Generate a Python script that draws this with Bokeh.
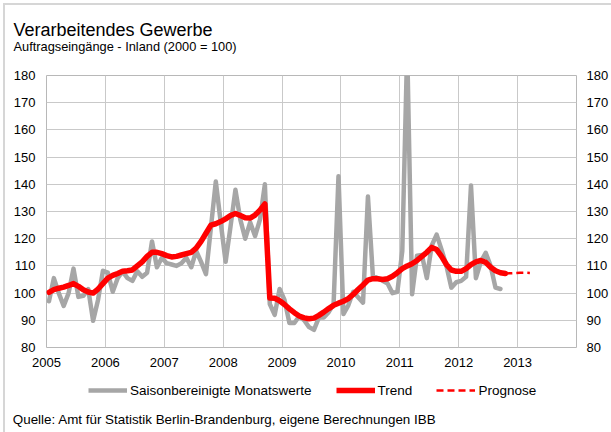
from bokeh.plotting import figure
from bokeh.layouts import column
from bokeh.models import (Range1d, FixedTicker, LinearAxis, Label, Legend,
                          LegendItem, ColumnDataSource)
from bokeh.embed import file_html
from bokeh.resources import INLINE

# ---------------- data ----------------
start_year = 2005
year_ticks = [2005, 2006, 2007, 2008, 2009, 2010, 2011, 2012, 2013]
grid_years = year_ticks + [2014]
y_ticks = [80, 90, 100, 110, 120, 130, 140, 150, 160, 170, 180]

# Saisonbereinigte Monatswerte, Jan 2005 .. Sep 2012
monatswerte = [
    97, 105.5, 100, 95.3, 100, 109, 98.6, 99, 101.5, 89.8, 97.5, 108.2,          # 2005
    107.5, 100.5, 105.5, 108, 105.5, 104.5, 108, 106, 107.5, 119, 109.5, 113,      # 2006
    111, 110.5, 110, 111, 113, 109.5, 115.5, 111.5, 107, 124, 141, 126,            # 2007
    111.5, 124.5, 138, 127, 120, 126, 121, 127, 140, 96, 92, 101.5,                # 2008
    97.5, 89, 89, 91.5, 90, 87.5, 86.5, 91, 91, 93, 96, 143,                       # 2009
    92.3, 95.5, 100.5, 98.5, 96.5, 135.5, 106.5, 105.5, 104.5, 103.5, 100, 100.5,  # 2010
    115.5, 190, 99.6, 113.7, 114, 105.5, 117.5, 121.5, 116, 110, 102, 104,         # 2011
    104.5, 106, 139.6, 105.5, 111.5, 114.8, 110, 102, 101.5,                       # 2012
]

# Trend, Jan 2005 .. Oct 2012
trend = [
    100.3, 101.3, 101.8, 102.2, 102.8, 103.5, 102.5, 101.2, 100.4, 100, 101.5, 103.5,
    105.5, 106.5, 107.2, 108, 108.2, 108.5, 110, 111.5, 113.5, 115, 115, 114.5,
    113.8, 113.3, 113.5, 114, 114.5, 115, 116.5, 119, 122, 125, 125.5, 126.3,
    127.3, 128.5, 129.3, 128.5, 127.7, 127.6, 128.7, 130.5, 132.8, 98.2, 98.1, 97.2,
    95.8, 94.2, 92.8, 91.6, 90.9, 90.6, 90.8, 91.8, 93, 94.3, 95.5, 96.3,
    97, 98, 99.5, 101.3, 103, 104.8, 105.3, 105.3, 105, 105.3, 106.2, 107.5,
    109, 110, 110.8, 112, 113.5, 115, 116.8, 116, 113.5, 110.5, 108.5, 108,
    108, 109, 110.5, 111.5, 112, 111.3, 109.5, 108.2, 107.5, 107.2,
]

# Prognose, Oct 2012 .. Mar 2013
prognose_start = len(trend) - 1
prognose = [107.2, 107.3, 107.4, 107.5, 107.5, 107.4]

title_text = "Verarbeitendes Gewerbe"
subtitle_text = "Auftragseingänge  - Inland  (2000 = 100)"
source_text = "Quelle: Amt für Statistik Berlin-Brandenburg, eigene Berechnungen IBB"
series_labels = ["Saisonbereinigte Monatswerte", "Trend", "Prognose"]


def month_pos(index_list):
    return [start_year + (i + 0.5) / 12 for i in index_list]


src_m = ColumnDataSource(dict(x=month_pos(range(len(monatswerte))), y=monatswerte))
src_t = ColumnDataSource(dict(x=month_pos(range(len(trend))), y=trend))
src_p = ColumnDataSource(dict(x=month_pos(range(prognose_start, prognose_start + len(prognose))),
                              y=prognose))

FONT = "Liberation Sans"
GRID = "#c9c9c9"
GRAY = "#a6a6a6"
RED = "#ff0000"
W = 611

STYLE_M = dict(line_color=GRAY, line_width=4.5, line_join="round")
STYLE_T = dict(line_color=RED, line_width=5.5, line_join="round")
STYLE_P = dict(line_color=RED, line_width=2.5, line_dash="7 4")


def blank_fig(height):
    f = figure(width=W, height=height, output_backend="svg", toolbar_location=None,
               x_range=Range1d(0, 1), y_range=Range1d(0, 1),
               x_axis_type=None, y_axis_type=None,
               min_border_left=0, min_border_right=0, min_border_top=0,
               min_border_bottom=0, frame_align=False)
    f.outline_line_color = None
    f.grid.visible = False
    f.background_fill_color = None
    f.border_fill_color = None
    return f


# ---------------- header ----------------
top = blank_fig(60)
top.add_layout(Label(x=13, y=30.7, x_units="screen", y_units="screen",
                     text=title_text, text_font=FONT,
                     text_font_size="18px", text_color="#000000",
                     text_baseline="alphabetic", text_align="left"))
top.add_layout(Label(x=13, y=14, x_units="screen", y_units="screen",
                     text=subtitle_text, text_font=FONT,
                     text_font_size="12.8px", text_color="#000000",
                     text_baseline="alphabetic", text_align="left"))

# ---------------- main chart ----------------
p = figure(width=W, height=312, output_backend="svg", toolbar_location=None,
           x_range=Range1d(2005, 2014), y_range=Range1d(80, 180),
           min_border_left=46, min_border_right=34, min_border_top=15,
           min_border_bottom=25, frame_align=False)
p.background_fill_color = "white"
p.border_fill_color = None
p.outline_line_color = "#b8b8b8"
p.outline_line_width = 1

p.xgrid.ticker = FixedTicker(ticks=grid_years)
p.ygrid.ticker = FixedTicker(ticks=y_ticks)
p.xgrid.grid_line_color = GRID
p.ygrid.grid_line_color = GRID

right_axis = LinearAxis()
p.add_layout(right_axis, "right")

p.xaxis.ticker = FixedTicker(ticks=year_ticks)
for ax in p.yaxis:
    ax.ticker = FixedTicker(ticks=y_ticks)
for ax in list(p.xaxis) + list(p.yaxis):
    ax.axis_line_color = None
    ax.major_tick_line_color = None
    ax.minor_tick_line_color = None
    ax.major_tick_out = 0
    ax.major_tick_in = 0
    ax.major_label_text_font = FONT
    ax.major_label_text_font_size = "13px"
    ax.major_label_text_color = "#000000"
p.xaxis.major_label_standoff = 10
p.yaxis[0].major_label_standoff = 11
right_axis.major_label_standoff = 10

p.line("x", "y", source=src_m, line_cap="round", **STYLE_M)
p.line("x", "y", source=src_t, line_cap="round", **STYLE_T)
p.line("x", "y", source=src_p, **STYLE_P)

# ---------------- footer: legend + source ----------------
bot = blank_fig(60)
# one-point lines draw nothing themselves; they only carry the legend styles
key_m = ColumnDataSource(dict(x=src_m.data["x"][:1], y=monatswerte[:1]))
key_t = ColumnDataSource(dict(x=src_t.data["x"][:1], y=trend[:1]))
key_p = ColumnDataSource(dict(x=src_p.data["x"][:1], y=prognose[:1]))
lr_m = bot.line("x", "y", source=key_m, **STYLE_M)
lr_t = bot.line("x", "y", source=key_t, **STYLE_T)
lr_p = bot.line("x", "y", source=key_p, **STYLE_P)
legend = Legend(items=[LegendItem(label=series_labels[0], renderers=[lr_m]),
                       LegendItem(label=series_labels[1], renderers=[lr_t]),
                       LegendItem(label=series_labels[2], renderers=[lr_p])],
                orientation="horizontal", location=(88, 34))
legend.padding = 0
legend.margin = 0
legend.spacing = 24
legend.glyph_width = 39
legend.glyph_height = 16
legend.label_height = 16
legend.label_standoff = 3
legend.label_text_font = FONT
legend.label_text_font_size = "13.5px"
legend.label_text_color = "#000000"
legend.border_line_color = None
legend.background_fill_alpha = 0
bot.add_layout(legend, "center")
bot.add_layout(Label(x=12.3, y=12.7, x_units="screen", y_units="screen",
                     text=source_text, text_font=FONT, text_font_size="13.4px",
                     text_color="#000000", text_baseline="alphabetic",
                     text_align="left"))

layout = column(top, p, bot, spacing=0,
                styles={"background-color": "#ffffff",
                        "box-shadow": "inset 3px 3px 0 #ffffff, inset 5px 5px 0 #d6d6d6"})
open("out.html", "w").write(file_html(layout, INLINE))
